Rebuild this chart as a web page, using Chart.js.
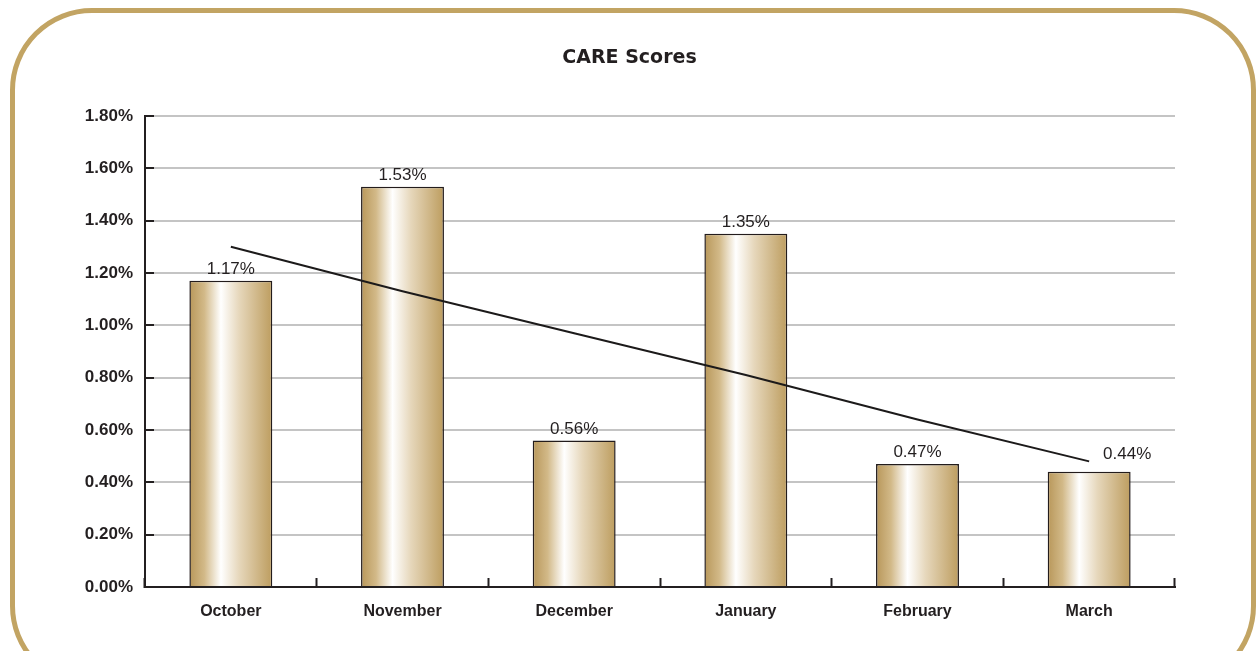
<!DOCTYPE html>
<html>
<head>
<meta charset="utf-8">
<script src="https://cdn.jsdelivr.net/npm/chart.js@4.4.0/dist/chart.umd.min.js"></script>
<style>
  html, body { margin: 0; padding: 0; background: #fff; overflow: hidden; }
  #wrap { position: relative; width: 1259px; height: 651px; }
  #frame {
    position: absolute; left: 10px; top: 8px; width: 1236px; height: 670px;
    border: 5px solid #c2a463; border-radius: 82px; pointer-events: none;
  }
  canvas { position: absolute; left: 0; top: 0; }
</style>
</head>
<body>
<div id="wrap">
  <canvas id="careChart" width="1259" height="651"></canvas>
  <div id="frame"></div>
</div>
<script>
var months = ["October", "November", "December", "January", "February", "March"];
var scores = [1.17, 1.53, 0.56, 1.35, 0.47, 0.44];
var trend = [1.30, 1.13, 0.97, 0.81, 0.64, 0.48];
var yTicks = [0, 0.2, 0.4, 0.6, 0.8, 1.0, 1.2, 1.4, 1.6, 1.8];

var barPct = 0.483;

function barGradient(context) {
    var chart = context.chart;
    var xs = chart.scales.x;
    if (!xs || !chart.chartArea) return '#c2a463';
    var cx = xs.getPixelForValue(context.dataIndex);
    var w = xs.width / months.length * barPct;
    var g = chart.ctx.createLinearGradient(cx - w / 2, 0, cx + w / 2, 0);
    g.addColorStop(0, '#b8975a');
    g.addColorStop(0.18, '#d2b988');
    g.addColorStop(0.38, '#ffffff');
    g.addColorStop(0.6, '#e6d7bb');
    g.addColorStop(1, '#bd9d5f');
    return g;
}

// value labels above the bars (March one sits right of the trend line)
var valueLabels = {
    id: 'valueLabels',
    afterDatasetsDraw: function (chart) {
        var ctx = chart.ctx;
        var meta = chart.getDatasetMeta(1);
        ctx.save();
        ctx.font = '17px "Liberation Sans", Arial, sans-serif';
        ctx.fillStyle = '#231f20';
        ctx.textAlign = 'center';
        ctx.textBaseline = 'bottom';
        meta.data.forEach(function (bar, i) {
            var dx = (i === months.length - 1) ? 38 : 0;
            var dy = (i === months.length - 1) ? 6 : 0;
            ctx.fillText(scores[i].toFixed(2) + '%', bar.x + dx, bar.y - 3 - dy);
        });
        ctx.restore();
    }
};

var ctx = document.getElementById("careChart").getContext("2d");
new Chart(ctx, {
    type: 'bar',
    data: {
        labels: months,
        datasets: [
            {
                type: 'line',
                data: trend,
                borderColor: '#1c1a1a',
                borderWidth: 2,
                pointRadius: 0,
                fill: false,
                tension: 0,
                order: 0
            },
            {
                label: 'CARE Scores',
                data: scores,
                backgroundColor: barGradient,
                borderColor: '#231c1c',
                borderWidth: 1.5,
                barPercentage: barPct,
                categoryPercentage: 1,
                order: 1
            }
        ]
    },
    options: {
        responsive: false,
        animation: false,
        layout: { padding: 0 },
        plugins: {
            legend: { display: false },
            tooltip: { enabled: false },
            title: {
                display: true,
                text: 'CARE Scores',
                color: '#231f20',
                font: { family: '"DejaVu Sans", Tahoma, sans-serif', size: 19, weight: 'bold', lineHeight: 1.2 },
                padding: { top: 47, bottom: 46.2 }
            }
        },
        scales: {
            x: {
                offset: true,
                border: { display: true, color: '#231f20', width: 2 },
                grid: {
                    display: true, drawOnChartArea: false, offset: true,
                    tickColor: '#231f20', tickWidth: 2, tickLength: -9
                },
                ticks: {
                    color: '#231f20', padding: 24,
                    font: { family: '"Liberation Sans", Arial, sans-serif', size: 16, weight: 'bold' }
                },
                afterFit: function (scale) { scale.height = 64; }
            },
            y: {
                min: 0, max: 1.8,
                afterBuildTicks: function (scale) {
                    scale.ticks = yTicks.map(function (v) { return { value: v }; });
                },
                border: { display: true, color: '#231f20', width: 2 },
                grid: {
                    color: '#c4c4c4', lineWidth: 2,
                    tickColor: '#231f20', tickWidth: 2, tickLength: -9
                },
                ticks: {
                    color: '#231f20', padding: 21,
                    font: { family: '"Liberation Sans", Arial, sans-serif', size: 17, weight: 'bold' },
                    callback: function (v) { return v.toFixed(2) + '%'; }
                },
                afterFit: function (scale) { scale.width = 145; }
            },
            spacer: {
                position: 'right',
                min: 0, max: 1.8,
                border: { display: false },
                grid: { display: false },
                ticks: { display: false },
                afterFit: function (scale) { scale.width = 84; }
            }
        }
    },
    plugins: [valueLabels]
});
</script>
</body>
</html>
